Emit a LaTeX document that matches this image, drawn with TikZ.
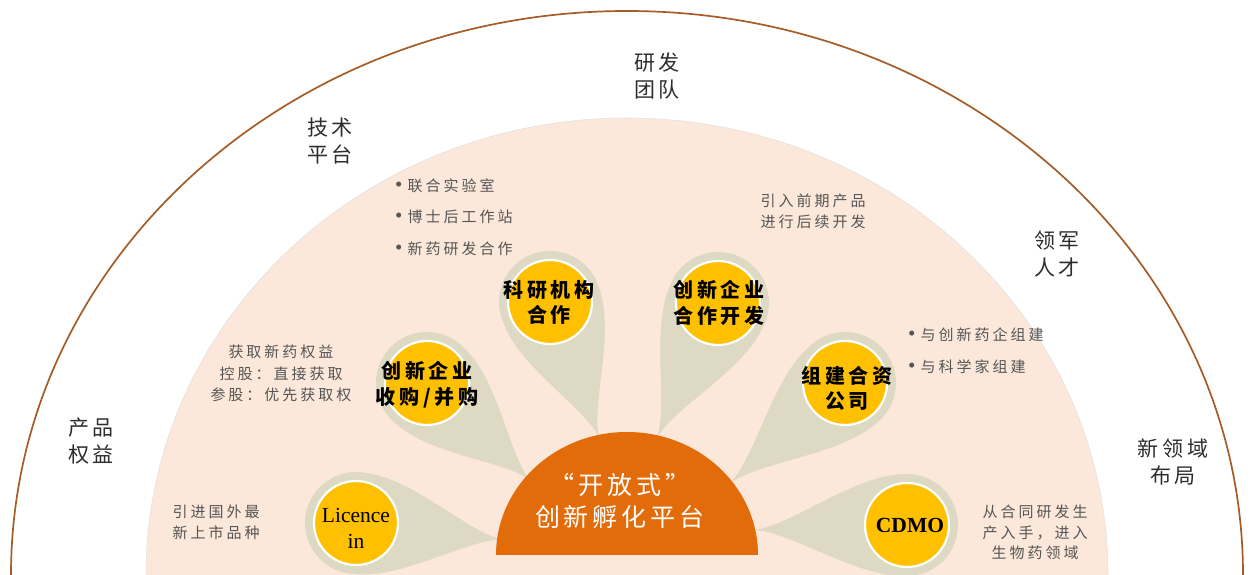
\documentclass[tikz,border=0pt]{standalone}
\usepackage{fontspec}
\setmainfont{Liberation Serif}
\newfontfamily\cjk[LetterSpace=20]{Noto Sans CJK SC}
\newfontfamily\cjkbub[LetterSpace=18]{Noto Sans CJK SC}
\newfontfamily\cjkring[LetterSpace=18]{Noto Sans CJK SC}
\newfontfamily\cjkhub[LetterSpace=16]{Noto Sans CJK SC}
\usetikzlibrary{calc}
\definecolor{outerline}{RGB}{166,92,38}
\definecolor{peach}{RGB}{252,232,218}
\definecolor{pingray}{RGB}{221,217,195}
\definecolor{bubyellow}{RGB}{255,192,0}
\definecolor{hubOrange}{RGB}{227,108,10}
\definecolor{desc}{RGB}{85,85,85}
\definecolor{ringlabel}{RGB}{45,45,45}
\newcommand\bul{{\rmfamily\fontsize{21}{21}\selectfont •}\hspace{5pt}}
\tikzset{
 ringtext/.style={font=\cjkring\fontsize{21}{27}\selectfont, text=ringlabel, align=center, inner sep=0},
 desctext/.style={font=\cjk\fontsize{15}{21}\selectfont, text=desc, align=center, inner sep=0},
 bulletlist/.style={font=\cjk\fontsize{15}{31.5}\selectfont, text=desc, align=left, inner sep=0, anchor=west},
 bubble/.style={circle, fill=bubyellow, draw=white, line width=2.2pt, minimum size=84pt, inner sep=0},
 bubtext/.style={font=\cjkbub\bfseries\fontsize{20}{25.5}\selectfont, text=black, align=center, inner sep=0},
 lattext/.style={font=\fontsize{21.5}{26}\selectfont, text=black, align=center, inner sep=0},
 hubtext/.style={font=\cjkhub\fontsize{25}{32}\selectfont, text=white, align=center, inner sep=0},
}
% #1 centre coordinate, #2 tip coordinate, #3 radius
\newcommand\pintail[3]{%
 \fill[pingray] (#1) circle[radius=#3];
 \fill[pingray] let \p1=($(#2)-(#1)$), \n1={atan2(\y1,\x1)}, \n2={0.33*(veclen(\x1,\y1)-#3)} in
  ($(#1)+(\n1+85:#3)$) .. controls ($(#1)+(\n1+85:#3)+(\n1:0.95*#3)$) and ($(#2)+(\n1+180:\n2)$) .. (#2)
  .. controls ($(#2)+(\n1+180:\n2)$) and ($(#1)+(\n1-85:#3)+(\n1:0.95*#3)$) .. ($(#1)+(\n1-85:#3)$) -- cycle;
}
\begin{document}
\begin{tikzpicture}[x=1pt,y=1pt]
\useasboundingbox (0,0) rectangle (1251,575);
\clip (0,0) rectangle (1251,575);
\fill[white] (0,0) rectangle (1251,575);
% rings
\draw[outerline, line width=1.7] (627,0) ellipse[x radius=616, y radius=564];
\fill[peach, draw=black!12, line width=0.5] (627,0) ellipse[x radius=481, y radius=457];
% bubble centres and tips
\coordinate (licC) at (356,52);   \coordinate (licT) at (505,35);
\coordinate (mnaC) at (427,192);  \coordinate (mnaT) at (532,93);
\coordinate (kyyC) at (550,273);  \coordinate (kyyT) at (600,135);
\coordinate (hzkC) at (718,272);  \coordinate (hzkT) at (656,135);
\coordinate (zjhC) at (845,192);  \coordinate (zjhT) at (728,90);
\coordinate (cdmC) at (907,50);   \coordinate (cdmT) at (752,45);
\pintail{licC}{licT}{51}
\pintail{mnaC}{mnaT}{51}
\pintail{kyyC}{kyyT}{51}
\pintail{hzkC}{hzkT}{51}
\pintail{zjhC}{zjhT}{51}
\pintail{cdmC}{cdmT}{51}
% hub dome
\begin{scope}
\clip (0,20) rectangle (1251,575);
\fill[hubOrange] (627,20) ellipse[x radius=131, y radius=123];
\end{scope}
\node[hubtext] (hub) at (620,74) {“开放式”\\创新孵化平台};
% bubbles
\node[bubble] (lic) at (licC) {};
\node[bubble] (mna) at (mnaC) {};
\node[bubble] (kyy) at (kyyC) {};
\node[bubble] (hzk) at (hzkC) {};
\node[bubble] (zjh) at (zjhC) {};
\node[bubble] (cdm) at (cdmC) {};
\node[lattext] (lict) at (356,47) {Licence\\in};
\node[bubtext] (mnat) at (427,190.5) {创新企业\\收购/并购};
\node[bubtext] (kyyt) at (549,272.5) {科研机构\\合作};
\node[bubtext] (hzkt) at (719,272) {创新企业\\合作开发};
\node[bubtext] (zjht) at (847,186.5) {组建合资\\公司};
\node[lattext, font=\bfseries\fontsize{21.5}{26}\selectfont] (cdmt) at (910,50) {CDMO};
% ring labels
\node[ringtext] (rd) at (657,498.5) {研发\\团队};
\node[ringtext] (tp) at (330,433.5) {技术\\平台};
\node[ringtext] (lt) at (1057,321.5) {领军\\人才};
\node[ringtext] (pr) at (91,133.5) {产品\\权益};
\node[ringtext] (nf) at (1173,113.5) {新领域\\布局};
% descriptions
\node[bulletlist] (d1) at (395,358) {\bul 联合实验室\\\bul 博士后工作站\\\bul 新药研发合作};
\node[desctext] (d2) at (813,364) {引入前期产品\\进行后续开发};
\node[bulletlist, font=\cjk\fontsize{15}{32}\selectfont] (d3) at (908,224) {\bul 与创新药企组建\\\bul 与科学家组建};
\node[desctext, font=\cjk\fontsize{15}{21.5}\selectfont] (d4) at (281,201.5) {获取新药权益\\控股：直接获取\\参股：优先获取权};
\node[desctext] (d5) at (216,52.5) {引进国外最\\新上市品种};
\node[desctext, font=\cjk\fontsize{15}{20.5}\selectfont] (d6) at (1035,42.5) {从合同研发生\\产入手，进入\\生物药领域};
\end{tikzpicture}
\end{document}
